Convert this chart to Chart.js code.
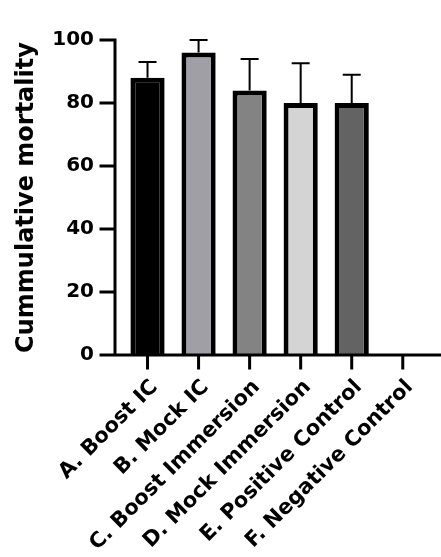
<!DOCTYPE html>
<html>
<head>
<meta charset="utf-8">
<script src="https://cdn.jsdelivr.net/npm/chart.js@4.4.1/dist/chart.umd.min.js"></script>
<style>
  html, body { margin: 0; padding: 0; background: #fff; }
</style>
</head>
<body>
<canvas id="chart" width="441" height="557"></canvas>
<script>
// datos
const groups = ["A. Boost IC", "B. Mock IC", "C. Boost Immersion", "D. Mock Immersion", "E. Positive Control", "F. Negative Control"];
const mortality = [88, 96, 84, 80, 80, 0];
const mortalityError = [5, 4, 10, 12.6, 9, 0];
const barColors = ["#000000", "#a09fa5", "#838383", "#d4d4d4", "#636363", "#ffffff"];
const yTicks = [0, 20, 40, 60, 80, 100];

const boldFont = (size) => ({ family: "DejaVu Sans", weight: "bold", size });

// ejes estilo Prism + barras de error (solo hacia arriba)
const prismAxes = {
  id: "prismAxes",
  afterDatasetsDraw(chart) {
    const { ctx, chartArea, scales } = chart;
    const x = scales.x;
    const y = scales.y;
    const axisX = chartArea.left - 7;
    const zeroY = y.getPixelForValue(0);
    const topY = y.getPixelForValue(yTicks[yTicks.length - 1]);

    ctx.save();
    ctx.strokeStyle = "#000";

    // barras de error
    ctx.lineWidth = 2;
    chart.getDatasetMeta(0).data.forEach((bar, i) => {
      if (!mortalityError[i]) return;
      const top = y.getPixelForValue(mortality[i] + mortalityError[i]);
      ctx.beginPath();
      ctx.moveTo(bar.x, bar.y);
      ctx.lineTo(bar.x, top);
      ctx.moveTo(bar.x - 9, top);
      ctx.lineTo(bar.x + 9, top);
      ctx.stroke();
    });

    ctx.lineWidth = 3;
    ctx.lineCap = "square";
    ctx.beginPath();
    // eje y
    ctx.moveTo(axisX, topY);
    ctx.lineTo(axisX, zeroY);
    yTicks.forEach((v) => {
      const py = y.getPixelForValue(v);
      ctx.moveTo(axisX - 14, py);
      ctx.lineTo(axisX, py);
    });
    // eje x
    ctx.moveTo(axisX - 14, zeroY);
    ctx.lineTo(chart.width, zeroY);
    groups.forEach((g, i) => {
      const px = x.getPixelForTick(i);
      ctx.moveTo(px, zeroY);
      ctx.lineTo(px, zeroY + 13);
    });
    ctx.stroke();
    ctx.restore();
  }
};

new Chart(document.getElementById("chart"), {
  type: "bar",
  data: {
    labels: groups,
    datasets: [{
      data: mortality,
      backgroundColor: barColors,
      borderColor: "#000",
      borderWidth: 5,
      barPercentage: 0.67,
      categoryPercentage: 1,
    }],
  },
  options: {
    responsive: false,
    animation: false,
    layout: { padding: { top: 24, right: 5 } },
    plugins: {
      legend: { display: false },
      tooltip: { enabled: false },
    },
    scales: {
      x: {
        grid: { display: false, drawTicks: false },
        border: { display: false },
        ticks: {
          autoSkip: false,
          minRotation: 45,
          maxRotation: 45,
          padding: 20,
          labelOffset: 7,
          color: "#000",
          font: boldFont(21),
        },
        afterFit(scale) { scale.height = 202; },
      },
      y: {
        min: 0,
        max: 100,
        grid: { display: false, drawTicks: false },
        border: { display: false },
        ticks: {
          stepSize: 20,
          padding: 28,
          color: "#000",
          font: boldFont(20),
        },
        title: {
          display: true,
          text: "Cummulative mortality",
          color: "#000",
          font: boldFont(24),
          padding: { top: 12, bottom: 0 },
        },
        afterFit(scale) { scale.width = 122; },
      },
    },
  },
  plugins: [prismAxes],
});
</script>
</body>
</html>
